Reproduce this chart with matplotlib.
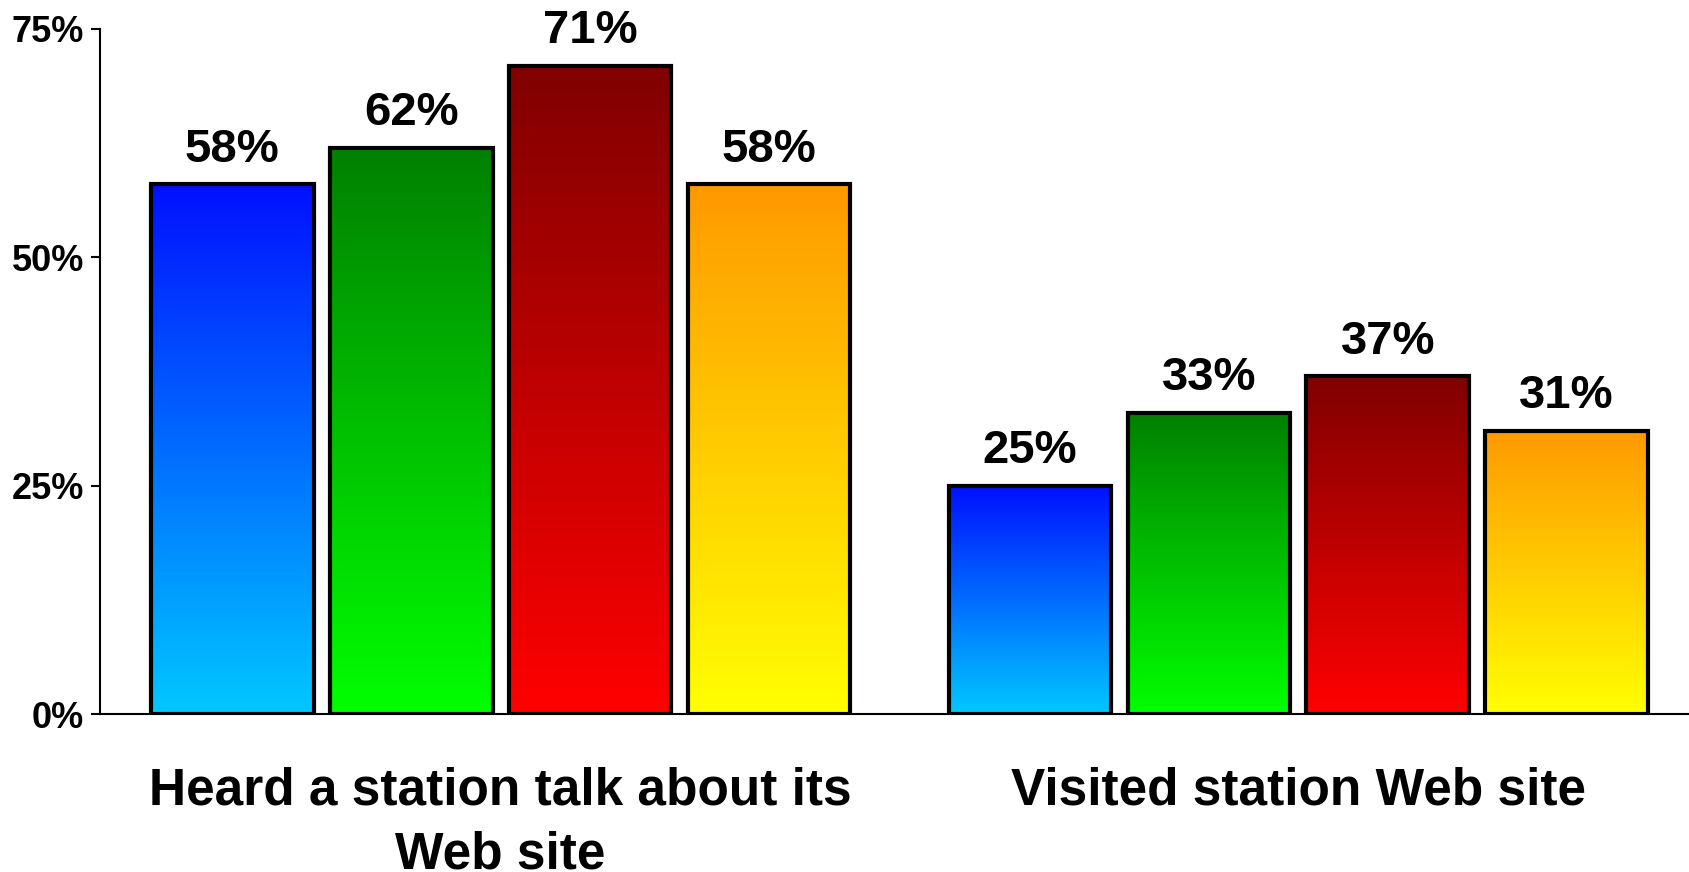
import numpy as np
import matplotlib.pyplot as plt
from matplotlib.colors import LinearSegmentedColormap

plt.rcParams['font.family'] = ['Liberation Sans', 'DejaVu Sans']
plt.rcParams['font.weight'] = 'bold'

categories = ["Heard a station talk about its\nWeb site", "Visited station Web site"]
blue_vals = [58, 25]
green_vals = [62, 33]
red_vals = [71, 37]
orange_vals = [58, 31]
yticks = [0, 25, 50, 75]
ytick_labels = ["0%", "25%", "50%", "75%"]

series = [blue_vals, green_vals, red_vals, orange_vals]
# gradient colours: (bottom, top)
grads = [("#00c8ff", "#0010ff"),
         ("#00ff00", "#008000"),
         ("#ff0000", "#800000"),
         ("#ffff00", "#ff9900")]

fig = plt.figure(figsize=(16.9, 8.72), dpi=100)
ax = fig.add_axes([100/1690, 1 - 714/872, 1 - 100/1690, (714 - 29)/872])

group_x = np.array([0, 4.46])
width = 0.91
grad = np.linspace(0, 1, 256).reshape(-1, 1)

for i, vals in enumerate(series):
    xs = group_x + (i - 1.5)
    cmap = LinearSegmentedColormap.from_list("g%d" % i, list(grads[i]))
    bars = ax.bar(xs, vals, width=width, facecolor="none", edgecolor="black",
                  linewidth=3, zorder=3)
    for b, v in zip(bars, vals):
        x0 = b.get_x()
        ax.imshow(grad, cmap=cmap, origin="lower", aspect="auto",
                  extent=(x0, x0 + width, 0, v), zorder=2)
        ax.annotate(f"{v}%", (x0 + width / 2, v), xytext=(0, 9),
                    textcoords="offset points", ha="center", va="bottom",
                    fontsize=34, fontweight="bold", clip_on=False, zorder=4)

ax.set_xlim(-2.24, 6.65)
ax.set_ylim(0, 75)
ax.set_yticks(yticks)
ax.set_yticklabels(ytick_labels, fontsize=26, fontweight="bold")
ax.set_xticks(group_x)
ax.set_xticklabels(categories, fontsize=37, fontweight="bold")
for lbl in ax.get_xticklabels():
    lbl.set_linespacing(1.4)
ax.tick_params(axis="x", length=0, pad=38)
ax.tick_params(axis="y", length=6.5, width=1.5, pad=5)
ax.spines["top"].set_visible(False)
ax.spines["right"].set_visible(False)
ax.spines["left"].set_linewidth(1.5)
ax.spines["bottom"].set_linewidth(1.5)
ax.spines["bottom"].set_zorder(5)

fig.savefig("out.png", dpi=100)
